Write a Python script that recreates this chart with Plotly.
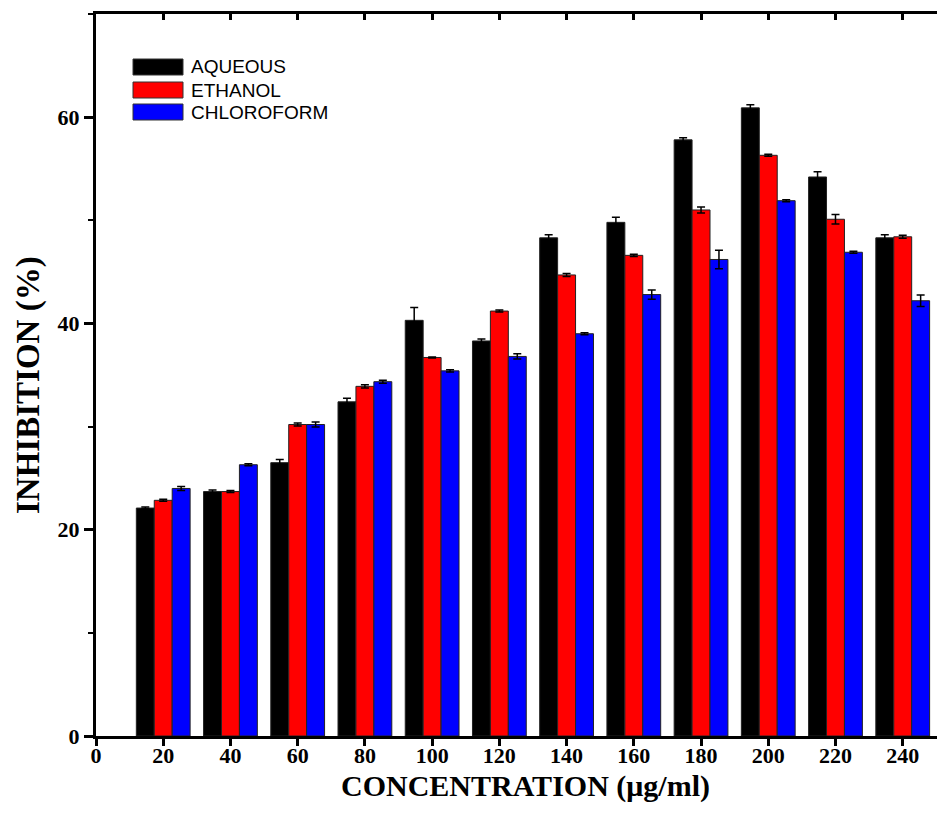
import plotly.graph_objects as go

concentration = [20, 40, 60, 80, 100, 120, 140, 160, 180, 200, 220, 240]
series_names = ["AQUEOUS", "ETHANOL", "CHLOROFORM"]
series_colors = ["#000000", "#FF0000", "#0000FF"]

aqueous = [22.1, 23.7, 26.5, 32.4, 40.3, 38.3, 48.3, 49.8, 57.8, 60.9, 54.2, 48.3]
ethanol = [22.85, 23.7, 30.2, 33.9, 36.7, 41.2, 44.7, 46.6, 51.0, 56.3, 50.1, 48.4]
chloroform = [24.0, 26.3, 30.2, 34.35, 35.4, 36.8, 39.0, 42.8, 46.2, 51.9, 46.9, 42.2]

aqueous_err = [0.1, 0.15, 0.3, 0.35, 1.25, 0.2, 0.3, 0.5, 0.2, 0.3, 0.5, 0.3]
ethanol_err = [0.1, 0.1, 0.15, 0.15, 0.05, 0.1, 0.15, 0.1, 0.3, 0.1, 0.45, 0.15]
chloroform_err = [0.2, 0.1, 0.25, 0.15, 0.1, 0.25, 0.1, 0.45, 0.9, 0.1, 0.1, 0.55]

values = [aqueous, ethanol, chloroform]
errors = [aqueous_err, ethanol_err, chloroform_err]

y_ticks = [0, 20, 40, 60]
x_ticks = [0, 20, 40, 60, 80, 100, 120, 140, 160, 180, 200, 220, 240]

# the page body adds an 8px offset; size the figure so it fits the window
OFF = 8
W, H = 929, 797
ML, MR, MT, MB = 88, 0, 6, 69
PW, PH = W - ML - MR, H - MT - MB

fig = go.Figure()
for name, col, vals, errs in zip(series_names, series_colors, values, errors):
    fig.add_trace(go.Bar(
        x=concentration, y=vals, name=name,
        marker=dict(color=col, line=dict(color="#222222", width=1)),
        error_y=dict(type="data", array=errs, visible=True, color="#000000",
                     thickness=1.5, width=4),
        showlegend=False,
    ))

# empty trace so the top mirror axis is drawn
fig.add_trace(go.Scatter(x=[], y=[], xaxis="x2", showlegend=False))

tickfont = dict(family="Liberation Serif", size=22, color="black", weight="bold")
xtitlefont = dict(family="Liberation Serif", size=30, color="black")
ytitlefont = dict(family="Liberation Serif", size=33, color="black")

fig.update_layout(
    width=W, height=H,
    margin=dict(l=ML, r=MR, t=MT, b=MB),
    paper_bgcolor="white", plot_bgcolor="white",
    barmode="group", bargap=0.2, bargroupgap=0,
    font=dict(family="Liberation Serif"),
    xaxis=dict(
        range=[0, 250.2], tickvals=x_ticks, ticktext=[str(v) for v in x_ticks],
        showgrid=False, zeroline=False, showline=True, linecolor="black", linewidth=3,
        ticks="outside", ticklen=7, tickwidth=3, tickcolor="black",
        tickfont=tickfont, ticklabelstandoff=-9,
    ),
    xaxis2=dict(
        overlaying="x", side="top", matches="x", anchor="y",
        range=[0, 250.2], tickvals=x_ticks, showticklabels=False,
        showgrid=False, zeroline=False, showline=True, linecolor="black", linewidth=3,
        ticks="inside", ticklen=6, tickwidth=3, tickcolor="black",
    ),
    yaxis=dict(
        range=[0, 70], tickvals=y_ticks, ticktext=[str(v) for v in y_ticks],
        showgrid=False, zeroline=False, showline=True, linecolor="black", linewidth=3,
        ticks="outside", ticklen=9, tickwidth=3, tickcolor="black",
        minor=dict(dtick=10, ticks="outside", ticklen=5, tickwidth=2, tickcolor="black"),
        tickfont=tickfont,
    ),
)


def px2paper(sx, sy):
    """screen pixel (in the 945x813 window) -> paper coords"""
    fx, fy = sx - OFF, sy - OFF
    return (fx - ML) / PW, (H - MB - fy) / PH


# axis titles as annotations for exact placement
tx, ty = px2paper(525, 786)
fig.add_annotation(xref="paper", yref="paper", x=tx, y=ty,
                   text="<b>CONCENTRATION (μg/ml)</b>", showarrow=False,
                   xanchor="center", yanchor="middle", font=xtitlefont)
yx, yy = px2paper(28, 385)
fig.add_annotation(xref="paper", yref="paper", x=yx, y=yy, textangle=-90,
                   text="<b>INHIBITION (%)</b>", showarrow=False,
                   xanchor="center", yanchor="middle", font=ytitlefont)

# manual legend (large swatches like the original)
sw_x0, sw_x1 = 133, 183
row_tops = [59, 82, 104]
sw_h = 16
for name, col, top in zip(series_names, series_colors, row_tops):
    x0, y1 = px2paper(sw_x0, top)
    x1, y0 = px2paper(sw_x1, top + sw_h)
    fig.add_shape(type="rect", xref="paper", yref="paper", x0=x0, x1=x1, y0=y0, y1=y1,
                  fillcolor=col, line=dict(color="#333333", width=1))
    lx, ly = px2paper(189, top + sw_h / 2)
    fig.add_annotation(xref="paper", yref="paper", x=lx, y=ly, text=name, showarrow=False,
                       xanchor="left", yanchor="middle",
                       font=dict(family="Liberation Sans", size=19, color="black"))

fig.write_html("out.html")
